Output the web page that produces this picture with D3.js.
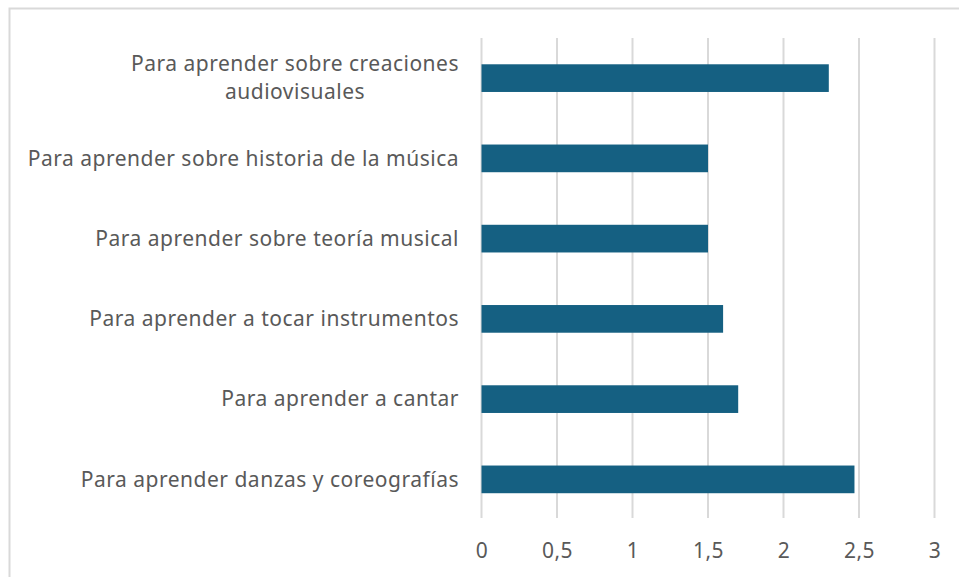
<!DOCTYPE html>
<html>
<head>
<meta charset="utf-8">
<script src="https://cdn.jsdelivr.net/npm/d3@7"></script>
<style>
  body { margin: 0; background: #fff; }
  text { font-family: "Noto Sans", sans-serif; fill: #595959; }
</style>
</head>
<body>
<div id="chart"></div>
<script>
var categories = [
  ["Para aprender sobre creaciones", "audiovisuales"],
  ["Para aprender sobre historia de la música"],
  ["Para aprender sobre teoría musical"],
  ["Para aprender a tocar instrumentos"],
  ["Para aprender a cantar"],
  ["Para aprender danzas y coreografías"]
];
var values = [2.3, 1.5, 1.5, 1.6, 1.7, 2.47];
var ticks = [0, 0.5, 1, 1.5, 2, 2.5, 3];

var width = 959, height = 577;

var svg = d3.select('#chart')
  .append('svg')
  .attr('width', width)
  .attr('height', height);

// chart frame
svg.append('rect')
  .attr('x', 9.5).attr('y', 8.5)
  .attr('width', width + 20).attr('height', height + 20)
  .attr('fill', 'none')
  .attr('stroke', '#d9d9d9')
  .attr('stroke-width', 2);

var x = d3.scaleLinear().domain([0, 3]).range([481.5, 934.5]);
var y = d3.scaleBand()
  .domain(d3.range(categories.length))
  .range([38, 519.5])
  .paddingInner(0.655)
  .paddingOuter(0.3275);

// gridlines
svg.append('g').selectAll('line')
  .data(ticks)
  .enter().append('line')
  .attr('x1', function(d) { return x(d); })
  .attr('x2', function(d) { return x(d); })
  .attr('y1', 38)
  .attr('y2', 518)
  .attr('stroke', '#d9d9d9')
  .attr('stroke-width', 2);

// x axis labels
var xAxis = svg.append('g')
  .attr('transform', 'translate(0,518)')
  .call(d3.axisBottom(x).tickValues(ticks).tickSize(0).tickPadding(25)
    .tickFormat(function(d) { return String(d).replace('.', ','); }));
xAxis.select('.domain').remove();
xAxis.selectAll('text')
  .style('font-family', '"Noto Sans", sans-serif')
  .style('font-size', '21px')
  .style('letter-spacing', '0.5px')
  .attr('fill', '#595959');

// bars
svg.append('g').selectAll('rect')
  .data(values)
  .enter().append('rect')
  .attr('x', x(0))
  .attr('y', function(d, i) { return y(i); })
  .attr('width', function(d) { return x(d) - x(0); })
  .attr('height', y.bandwidth())
  .attr('fill', '#156082');

// category labels
var lineH = 28;
var labels = svg.append('g').selectAll('text')
  .data(categories)
  .enter().append('text')
  .style('font-size', '21px')
  .style('letter-spacing', '0.5px')
  .attr('text-anchor', 'middle');

labels.each(function(lines, i) {
  var t = d3.select(this);
  var cy = y(i) + y.bandwidth() / 2;
  var top = cy - (lines.length - 1) * lineH / 2;
  lines.forEach(function(s, k) {
    t.append('tspan').attr('x', 0).attr('y', top + k * lineH).attr('dy', '0.35em').text(s);
  });
  // right align the block at 459, centre lines within it
  var w = this.getBBox().width;
  t.selectAll('tspan').attr('x', 459 - w / 2);
});
</script>
</body>
</html>
